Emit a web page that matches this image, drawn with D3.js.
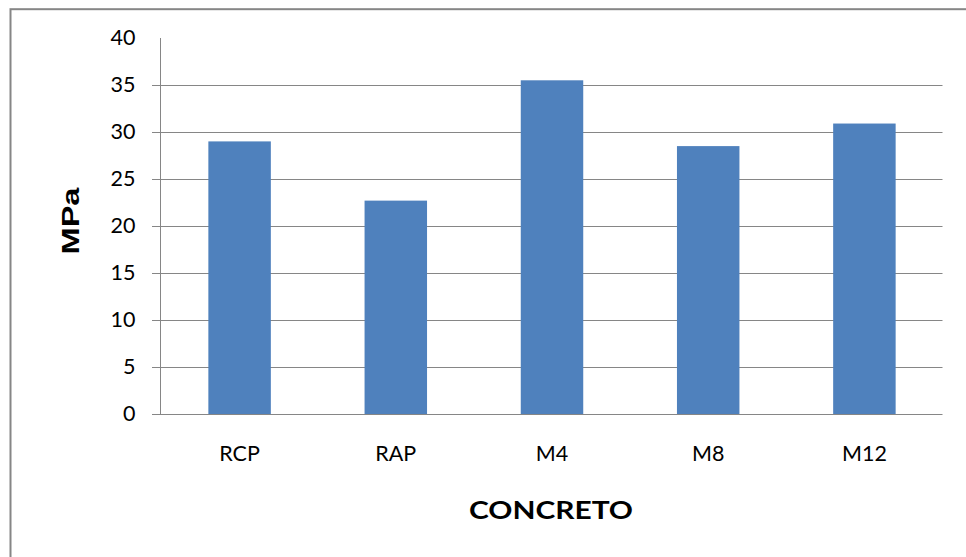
<!DOCTYPE html>
<html>
<head>
<meta charset="utf-8">
<script src="https://cdn.jsdelivr.net/npm/d3@7"></script>
<style>
  html, body { margin: 0; padding: 0; background: #fff; }
  svg { display: block; }
</style>
</head>
<body>
<svg id="chart" width="966" height="557"></svg>
<script>
const categories = ["RCP", "RAP", "M4", "M8", "M12"];
const values = [29.0, 22.7, 35.5, 28.5, 30.9];
const yTicks = [0, 5, 10, 15, 20, 25, 30, 35, 40];
const xTitle = "CONCRETO";
const yTitle = "MPa";

const svg = d3.select("#chart");
const W = 966, H = 557;
const plot = { left: 160, right: 942.5, top: 38, bottom: 414 };
const gray = "#868686";

svg.append("rect").attr("width", W).attr("height", H).attr("fill", "#fff");
// outer chart border (cropped at right & bottom)
svg.append("rect")
  .attr("x", 10.5).attr("y", 9.2)
  .attr("width", 1000).attr("height", 600)
  .attr("fill", "none").attr("stroke", gray).attr("stroke-width", 2);

const x = d3.scaleBand().domain(categories).range([plot.left + 1.5, plot.right]).paddingInner(0.6).paddingOuter(0.3);
const y = d3.scaleLinear().domain([0, 40]).range([plot.bottom, plot.top]);

// gridlines
svg.append("g").selectAll("line").data(yTicks.filter(t => t > 0 && t < 40)).join("line")
  .attr("x1", plot.left - 8).attr("x2", plot.right)
  .attr("y1", d => Math.round(y(d)) + 0.5).attr("y2", d => Math.round(y(d)) + 0.5)
  .attr("stroke", gray).attr("stroke-width", 1);

// bars
svg.append("g").selectAll("rect").data(categories).join("rect")
  .attr("x", d => x(d))
  .attr("width", x.bandwidth())
  .attr("y", (d, i) => y(values[i]))
  .attr("height", (d, i) => y(0) - y(values[i]))
  .attr("fill", "#4F81BD");

// y axis
const yAxis = d3.axisLeft(y).tickValues(yTicks).tickSize(0).tickPadding(25).tickFormat(d3.format("d"));
const gy = svg.append("g").attr("transform", `translate(${plot.left + 0.5},0)`).call(yAxis);
gy.select(".domain").attr("stroke", gray).attr("d", `M0,${plot.top}V${plot.bottom}`);
gy.selectAll(".tick").append("line")
  .attr("x1", d => d === 40 ? 0 : -8).attr("x2", 0)
  .attr("stroke", gray);
gy.selectAll(".tick text")
  .attr("font-family", "Lato, 'Open Sans', sans-serif")
  .attr("font-size", 21.5).attr("fill", "#000");

// x axis
const xAxis = d3.axisBottom(x).tickSize(0).tickPadding(31);
const gx = svg.append("g").attr("transform", `translate(0,${Math.round(y(0)) + 0.5})`).call(xAxis);
gx.select(".domain").attr("stroke", gray).attr("d", `M${plot.left - 8},0H${plot.right}`);
gx.selectAll(".tick text")
  .attr("font-family", "Lato, 'Open Sans', sans-serif")
  .attr("font-size", 21.5).attr("fill", "#000");

// axis titles
svg.append("text")
  .attr("x", 551).attr("y", 519)
  .attr("text-anchor", "middle")
  .attr("font-family", "Lato, sans-serif").attr("font-weight", "bold")
  .attr("font-size", 25)
  .attr("textLength", 164).attr("lengthAdjust", "spacingAndGlyphs")
  .text(xTitle);

svg.append("text")
  .attr("transform", "translate(79,221) rotate(-90)")
  .attr("text-anchor", "middle")
  .attr("font-family", "'Liberation Sans', Arial, sans-serif").attr("font-weight", "bold")
  .attr("font-size", 24.5)
  .attr("textLength", 67).attr("lengthAdjust", "spacingAndGlyphs")
  .text(yTitle);
</script>
</body>
</html>
